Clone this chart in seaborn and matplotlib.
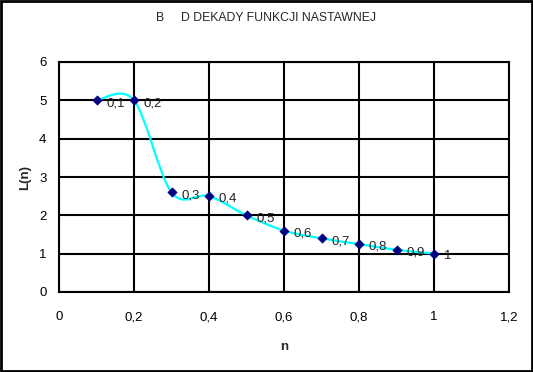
import numpy as np
import pandas as pd
import seaborn as sns
import matplotlib.pyplot as plt
from matplotlib.path import Path
from matplotlib.patches import PathPatch, Rectangle

# data
n_values = [0.1, 0.2, 0.3, 0.4, 0.5, 0.6, 0.7, 0.8, 0.9, 1.0]
L_values = [5.0, 5.0, 2.6, 2.5, 2.0, 1.6, 1.4, 1.25, 1.1, 1.0]
point_labels = ['0,1', '0,2', '0,3', '0,4', '0,5', '0,6', '0,7', '0,8', '0,9', '1']
x_ticks = [0, 0.2, 0.4, 0.6, 0.8, 1.0, 1.2]
x_ticklabels = ['0', '0,2', '0,4', '0,6', '0,8', '1', '1,2']
y_ticks = [0, 1, 2, 3, 4, 5, 6]
y_ticklabels = ['0', '1', '2', '3', '4', '5', '6']

df = pd.DataFrame({'n': n_values, 'L': L_values, 'label': point_labels})

sns.set_style('white')
plt.rcParams['font.family'] = ['Liberation Sans', 'DejaVu Sans']

fig = plt.figure(figsize=(5.33, 3.72), dpi=100)
ax = fig.add_axes([59 / 533, 1 - 292 / 372, 450 / 533, 230 / 372])

# smoothed line (Excel-like Catmull-Rom bezier through the points)
pts = df[['n', 'L']].to_numpy()
sx, sy = 375.0, 230.0 / 6
scr = pts * [sx, sy]
verts = [tuple(pts[0])]
codes = [Path.MOVETO]
for i in range(len(scr) - 1):
    p0 = scr[max(i - 1, 0)]
    p1 = scr[i]
    p2 = scr[i + 1]
    p3 = scr[min(i + 2, len(scr) - 1)]
    c1 = p1 + (p2 - p0) / 6
    c2 = p2 - (p3 - p1) / 6
    for c in (c1, c2, p2):
        verts.append((c[0] / sx, c[1] / sy))
        codes.append(Path.CURVE4)
ax.add_patch(PathPatch(Path(verts, codes), facecolor='none', edgecolor='#00FFFF',
                       linewidth=1.6, zorder=3))

sns.scatterplot(data=df, x='n', y='L', ax=ax, marker='D', s=22, color='#000080',
                edgecolor='#000080', linewidth=0.5, zorder=4, legend=False)

for _, row in df.iterrows():
    ax.annotate(row['label'], (row['n'], row['L']), xytext=(7, -2),
                textcoords='offset points', ha='left', va='center',
                fontsize=9.5, color='#222222', zorder=5)

ax.set_xlim(0, 1.2)
ax.set_ylim(0, 6)
ax.set_xticks(x_ticks)
ax.set_xticklabels(x_ticklabels)
ax.set_yticks(y_ticks)
ax.set_yticklabels(y_ticklabels)
ax.tick_params(axis='both', direction='out', length=4, width=1.5, color='black',
               labelsize=9.5, labelcolor='black')
ax.tick_params(axis='x', pad=10)
ax.tick_params(axis='y', pad=5)
ax.grid(True, color='black', linewidth=1.5)
ax.set_axisbelow(True)
for sp in ax.spines.values():
    sp.set_color('black')
    sp.set_linewidth(1.5)

ax.set_xlabel('n', fontsize=9.5, fontweight='bold', labelpad=13)
ax.set_ylabel('L(n)', fontsize=9.5, fontweight='bold', labelpad=6)

fig.text(0.5, 1 - 18 / 372, 'B     D DEKADY FUNKCJI NASTAWNEJ', ha='center', va='center',
         fontsize=8.8)

fig.patches.append(Rectangle((0.002, 0.003), 0.996, 0.994, transform=fig.transFigure,
                             fill=False, edgecolor='black', linewidth=2))

plt.savefig('out.png', dpi=100)
